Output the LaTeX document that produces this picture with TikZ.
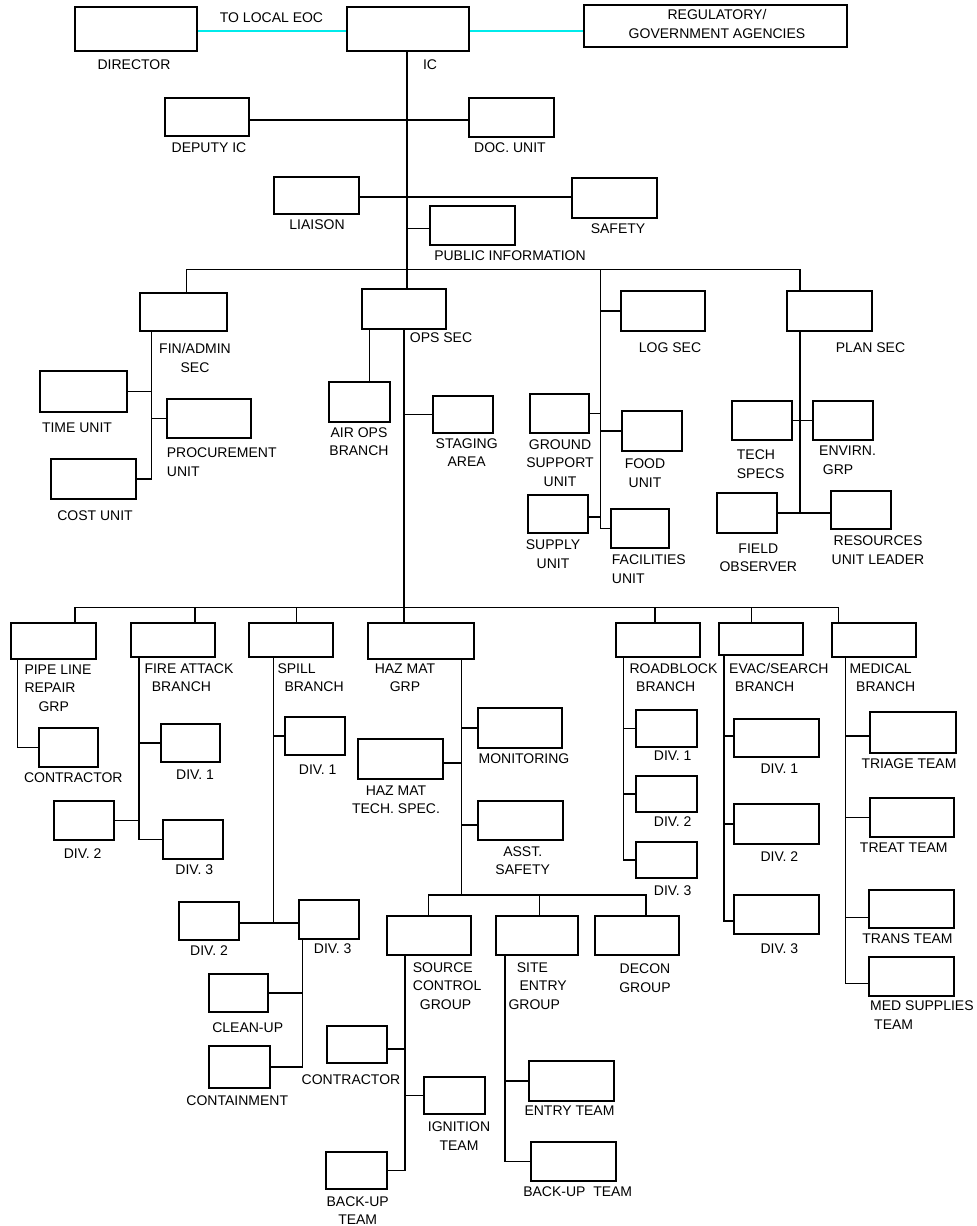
\documentclass[tikz,border=0pt]{standalone}
\usepackage{fontspec}
\setmainfont{Liberation Sans}
\definecolor{eoccyan}{RGB}{0,235,235}
\tikzset{
  bx/.style={draw, line width=1.5pt, inner sep=0pt},
  ln/.style={line width=1.5pt},
  lbl/.style={inner sep=0pt, font=\fontsize{14}{18.5}\selectfont, align=center},
  lbll/.style={lbl, align=left, anchor=west},
  eoc/.style={eoccyan, line width=1.4pt}
}
\newcommand\bx[5]{\node[bx, minimum width={(#4-#2)*1pt}, minimum height={(#5-#3)*1pt}] (#1) at ({(#2+#4)/2},{(#3+#5)/2}) {};}
\begin{document}
\begin{tikzpicture}[x=1pt,y=-1pt]
\useasboundingbox (0,0) rectangle (977,1226);
% ---------- boxes ----------
\bx{dir}{75}{7}{197}{51}
\bx{ic}{347}{7}{469}{51}
\bx{reg}{584}{5}{847}{47}
\bx{dep}{165}{98}{249}{136}
\bx{doc}{469}{98}{554}{137}
\bx{lia}{274}{177}{359}{214}
\bx{saf}{572}{178}{657}{218}
\bx{pub}{430}{206}{515}{245}
\bx{fin}{140}{293}{227}{331}
\bx{time}{40}{371}{127}{412}
\bx{proc}{167}{399}{251}{438}
\bx{cost}{51}{459}{136}{499}
\bx{ops}{362}{289}{446}{329}
\bx{air}{329}{382}{390}{422}
\bx{stag}{433}{396}{493}{433}
\bx{log}{621}{291}{705}{331}
\bx{gsu}{530}{394}{589}{433}
\bx{food}{622}{411}{682}{451}
\bx{sup}{528}{495}{588}{533}
\bx{fac}{611}{509}{669}{548}
\bx{plan}{787}{291}{872}{331}
\bx{tech}{732}{401}{792}{440}
\bx{env}{813}{401}{873}{440}
\bx{field}{717}{493}{777}{533}
\bx{res}{831}{491}{891}{529}
\bx{pipe}{11}{623}{96}{659}
\bx{fire}{131}{623}{215}{657}
\bx{spill}{249}{623}{333}{657}
\bx{haz}{368}{623}{474}{659}
\bx{road}{616}{623}{700}{657}
\bx{evac}{719}{623}{803}{655}
\bx{med}{832}{623}{916}{657}
\bx{pcon}{39}{728}{98}{767}
\bx{fdone}{161}{724}{220}{762}
\bx{fdtwo}{54}{801}{114}{840}
\bx{fdthree}{163}{820}{223}{859}
\bx{sdone}{285}{717}{345}{755}
\bx{sdtwo}{179}{902}{239}{940}
\bx{sdthree}{299}{900}{359}{939}
\bx{clean}{209}{974}{268}{1012}
\bx{cont}{209}{1046}{270}{1088}
\bx{mon}{478}{708}{562}{748}
\bx{hts}{358}{739}{443}{779}
\bx{asst}{478}{801}{563}{840}
\bx{src}{387}{916}{471}{955}
\bx{site}{496}{916}{578}{955}
\bx{decon}{595}{916}{679}{955}
\bx{scon}{327}{1026}{387}{1063}
\bx{ign}{424}{1077}{485}{1114}
\bx{sbu}{326}{1152}{387}{1189}
\bx{entry}{529}{1061}{614}{1101}
\bx{ebu}{531}{1142}{616}{1181}
\bx{rdone}{636}{710}{697}{747}
\bx{rdtwo}{636}{776}{697}{812}
\bx{rdthree}{636}{842}{697}{878}
\bx{edone}{734}{719}{819}{757}
\bx{edtwo}{734}{804}{819}{844}
\bx{edthree}{734}{895}{819}{934}
\bx{tri}{870}{712}{956}{753}
\bx{treat}{870}{798}{954}{837}
\bx{trans}{869}{890}{954}{928}
\bx{msup}{869}{957}{954}{996}
% ---------- spine coordinates ----------
\coordinate (eocrow) at (400,31);
\coordinate (sp) at (407,0);
\coordinate (bone) at (0,269.3);
\coordinate (btwo) at (0,607.3);
\coordinate (bthree) at (0,895);
\coordinate (finx) at (186.7,0);
\coordinate (finv) at (151.7,0);
\coordinate (logx) at (600.7,0);
\coordinate (planx) at (800,0);
\coordinate (opsv) at (404,0);
\coordinate (airx) at (369.3,0);
\coordinate (px) at (75,0);
\coordinate (pv) at (17.3,0);
\coordinate (firex) at (195,0);
\coordinate (fv) at (139,0);
\coordinate (spillx) at (296.7,0);
\coordinate (sv) at (273.3,0);
\coordinate (dv) at (302.3,0);
\coordinate (hv) at (461.7,0);
\coordinate (srcx) at (428.3,0);
\coordinate (sitex) at (539.3,0);
\coordinate (decx) at (646,0);
\coordinate (scv) at (405,0);
\coordinate (stv) at (505,0);
\coordinate (roadx) at (655,0);
\coordinate (rv) at (623.3,0);
\coordinate (evacx) at (751.7,0);
\coordinate (ev) at (724,0);
\coordinate (mx) at (838.7,0);
\coordinate (mv) at (845.5,0);
% ---------- connectors ----------
\draw[eoc] (dir.east |- eocrow) -- (ic.west |- eocrow);
\draw[eoc] (ic.east |- eocrow) -- (reg.west |- eocrow);
\draw[ln] (ic.south -| sp) -- (ops.north -| sp);
\draw[ln] (dep.east |- 0,120) -- (doc.west |- 0,120);
\draw[ln] (lia.east |- 0,197) -- (saf.west |- 0,197);
\draw[ln] (sp |- 0,228.3) -- (pub.west |- 0,228.3);
\draw[ln] (fin.north -| finx) -- (finx |- bone) -- (planx |- bone) -- (plan.north -| planx);
% fin
\draw[ln] (fin.south -| finv) -- (finv |- cost.east) -- (cost.east);
\draw[ln] (time.east) -- (time.east -| finv);
\draw[ln] (finv |- proc.west) -- (proc.west);
% ops
\draw[ln] (ops.south -| opsv) -- (haz.north -| opsv);
\draw[ln] (ops.south -| airx) -- (air.north -| airx);
\draw[ln] (opsv |- stag.west) -- (stag.west);
% log
\draw[ln] (logx |- bone) -- (logx |- fac.west);
\draw[ln] (logx |- log.west) -- (log.west);
\draw[ln] (gsu.east) -- (gsu.east -| logx);
\draw[ln] (logx |- food.west) -- (food.west);
\draw[ln] (sup.east |- 0,517) -- (logx |- 0,517);
\draw[ln] (logx |- fac.west) -- (fac.west);
% plan
\draw[ln] (plan.south -| planx) -- (planx |- field.east);
\draw[ln] (tech.east) -- (env.west |- tech.east);
\draw[ln] (field.east) -- (res.west |- field.east);
% level 2 bus
\draw[ln] (pipe.north -| px) -- (px |- btwo) -- (mx |- btwo) -- (med.north -| mx);
\draw[ln] (firex |- btwo) -- (fire.north -| firex);
\draw[ln] (spillx |- btwo) -- (spill.north -| spillx);
\draw[ln] (roadx |- btwo) -- (road.north -| roadx);
\draw[ln] (evacx |- btwo) -- (evac.north -| evacx);
% pipe line
\draw[ln] (pipe.south -| pv) -- (pv |- pcon.west) -- (pcon.west);
% fire
\draw[ln] (fire.south -| fv) -- (fv |- fdthree.west) -- (fdthree.west);
\draw[ln] (fv |- fdone.west) -- (fdone.west);
\draw[ln] (fdtwo.east) -- (fdtwo.east -| fv);
% spill
\draw[ln] (spill.south -| sv) -- (sv |- 0,923);
\draw[ln] (sdtwo.east |- 0,923) -- (sdthree.west |- 0,923);
\draw[ln] (sv |- sdone.west) -- (sdone.west);
\draw[ln] (sdthree.south -| dv) -- (dv |- cont.east) -- (cont.east);
\draw[ln] (clean.east) -- (clean.east -| dv);
% haz mat
\draw[ln] (haz.south -| hv) -- (hv |- bthree);
\draw[ln] (hv |- mon.west) -- (mon.west);
\draw[ln] (hts.east |- 0,763) -- (hv |- 0,763);
\draw[ln] (hv |- 0,825) -- (asst.west |- 0,825);
\draw[ln] (src.north -| srcx) -- (srcx |- bthree) -- (decx |- bthree) -- (decon.north -| decx);
\draw[ln] (sitex |- bthree) -- (site.north -| sitex);
% source control
\draw[ln] (src.south -| scv) -- (scv |- sbu.east) -- (sbu.east);
\draw[ln] (scon.east |- 0,1049) -- (scv |- 0,1049);
\draw[ln] (scv |- ign.west) -- (ign.west);
% site entry
\draw[ln] (site.south -| stv) -- (stv |- ebu.west) -- (ebu.west);
\draw[ln] (stv |- entry.west) -- (entry.west);
% roadblock
\draw[ln] (road.south -| rv) -- (rv |- rdthree.west) -- (rdthree.west);
\draw[ln] (rv |- rdone.west) -- (rdone.west);
\draw[ln] (rv |- rdtwo.west) -- (rdtwo.west);
% evac
\draw[ln] (evac.south -| ev) -- (ev |- 0,921) -- (edthree.west |- 0,921);
\draw[ln] (ev |- 0,736) -- (edone.west |- 0,736);
\draw[ln] (ev |- edtwo.west) -- (edtwo.west);
% medical
\draw[ln] (med.south -| mv) -- (mv |- 0,983.5) -- (msup.west |- 0,983.5);
\draw[ln] (mv |- 0,736) -- (tri.west |- 0,736);
\draw[ln] (mv |- treat.west) -- (treat.west);
\draw[ln] (mv |- 0,917.7) -- (trans.west |- 0,917.7);
% ---------- labels ----------
\node[lbl] (ldir) at (134,65) {DIRECTOR};
\node[lbl] (lic) at (430,65) {IC};
\node[lbl] (leoc) at (271.5,17.7) {TO LOCAL EOC};
\node[lbl, font=\fontsize{14}{19}\selectfont] (lreg) at (717,23.8) {REGULATORY/\\GOVERNMENT AGENCIES};
\node[lbl] (ldep) at (209,148) {DEPUTY IC};
\node[lbl] (ldoc) at (510,148) {DOC. UNIT};
\node[lbl] (llia) at (317,225) {LIAISON};
\node[lbl] (lsaf) at (618,229) {SAFETY};
\node[lbl] (lpub) at (510,256) {PUBLIC INFORMATION};
\node[lbl] (lfin) at (195,358) {FIN/ADMIN\\SEC};
\node[lbl] (ltime) at (77,428) {TIME UNIT};
\node[lbll] (lproc) at (166.7,462) {PROCUREMENT\\UNIT};
\node[lbl] (lcost) at (95,516) {COST UNIT};
\node[lbl] (lops) at (441,338) {OPS SEC};
\node[lbl] (lair) at (359,441.5) {AIR OPS\\BRANCH};
\node[lbl] (lstag) at (466.7,452.7) {STAGING\\AREA};
\node[lbl] (llog) at (670,348) {LOG SEC};
\node[lbl] (lgsu) at (560,463) {GROUND\\SUPPORT\\UNIT};
\node[lbl] (lfood) at (645,473) {FOOD\\UNIT};
\node[lbl] (lsup) at (553,554) {SUPPLY\\UNIT};
\node[lbll] (lfac) at (611.7,569) {FACILITIES\\UNIT};
\node[lbl] (lplan) at (870.5,348) {PLAN SEC};
\node[lbll] (ltech) at (736.7,464) {TECH\\SPECS};
\node[lbll] (lenv) at (819,460) {ENVIRN.\\\hspace*{3.7pt}GRP};
\node[lbl] (lfield) at (758.3,557.5) {FIELD\\OBSERVER};
\node[lbl] (lres) at (878,550) {RESOURCES\\UNIT LEADER};
\node[lbll] (lpipe) at (24.3,688) {PIPE LINE\\REPAIR\\\hspace*{14pt}GRP};
\node[lbl] (lpcon) at (73.3,777.7) {CONTRACTOR};
\node[lbll] (lfire) at (144.3,677.5) {FIRE ATTACK\\\hspace*{7.4pt}BRANCH};
\node[lbl] (lfdone) at (195,774.3) {DIV. 1};
\node[lbl] (lfdtwo) at (82.7,853.3) {DIV. 2};
\node[lbl] (lfdthree) at (194.3,870) {DIV. 3};
\node[lbll] (lspill) at (277.3,677.5) {SPILL\\\hspace*{7pt}BRANCH};
\node[lbl] (lsdone) at (317.7,769.3) {DIV. 1};
\node[lbl] (lsdtwo) at (209,950.7) {DIV. 2};
\node[lbl] (lsdthree) at (332.7,949) {DIV. 3};
\node[lbl] (lclean) at (247.7,1027.3) {CLEAN-UP};
\node[lbl] (lcont) at (237.3,1101) {CONTAINMENT};
\node[lbl] (lhaz) at (405,677.5) {HAZ MAT\\GRP};
\node[lbl] (lmon) at (524,758.3) {MONITORING};
\node[lbl] (lhts) at (396,799.7) {HAZ MAT\\TECH. SPEC.};
\node[lbl] (lasst) at (522.7,860.5) {ASST.\\SAFETY};
\node[lbll] (lsrc) at (412.7,986) {SOURCE\\CONTROL\\\hspace*{7pt}GROUP};
\node[lbll] (lsite) at (508.3,986) {\hspace*{8.4pt}SITE\\\hspace*{11pt}ENTRY\\GROUP};
\node[lbl] (ldecon) at (645,978) {DECON\\GROUP};
\node[lbl] (lscon) at (351,1080) {CONTRACTOR};
\node[lbl] (lign) at (459,1136) {IGNITION\\TEAM};
\node[lbl] (lsbu) at (357.7,1210.5) {BACK-UP\\TEAM};
\node[lbl] (lentry) at (569.5,1111) {ENTRY TEAM};
\node[lbl] (lebu) at (577.7,1191.7) {BACK-UP\ \ TEAM};
\node[lbll] (lroad) at (629.3,677.5) {ROADBLOCK\\\hspace*{6.7pt}BRANCH};
\node[lbl] (lrdone) at (672.7,756) {DIV. 1};
\node[lbl] (lrdtwo) at (672.7,821.7) {DIV. 2};
\node[lbl] (lrdthree) at (672.7,891) {DIV. 3};
\node[lbll] (levac) at (729,677.5) {EVAC/SEARCH\\\hspace*{6pt}BRANCH};
\node[lbl] (ledone) at (779.3,768.3) {DIV. 1};
\node[lbl] (ledtwo) at (779.3,856.7) {DIV. 2};
\node[lbl] (ledthree) at (779.3,949) {DIV. 3};
\node[lbll] (lmed) at (849.3,677.5) {MEDICAL\\\hspace*{6.7pt}BRANCH};
\node[lbl] (ltri) at (909,763.3) {TRIAGE TEAM};
\node[lbl] (ltreat) at (903.8,847.3) {TREAT TEAM};
\node[lbl] (ltrans) at (907.5,939) {TRANS TEAM};
\node[lbll] (lmsup) at (870,1015) {MED SUPPLIES\\\hspace*{4pt}TEAM};
\end{tikzpicture}
\end{document}
